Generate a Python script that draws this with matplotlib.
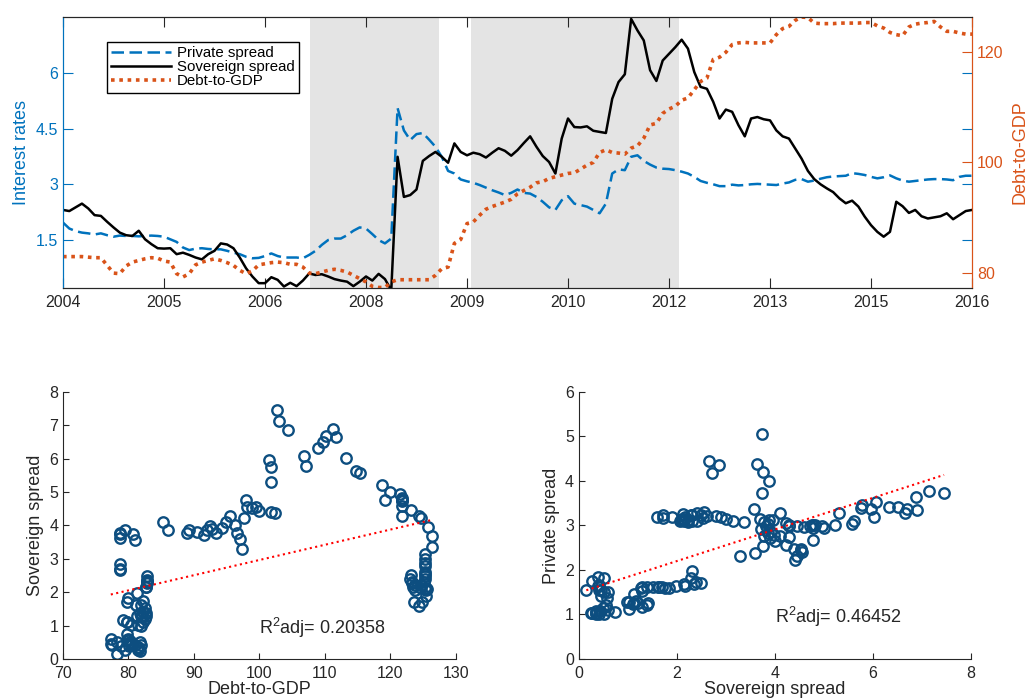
import numpy as np
import matplotlib.pyplot as plt

plt.rcParams['font.family'] = ['Liberation Sans', 'DejaVu Sans']
plt.rcParams['mathtext.fontset'] = 'custom'
plt.rcParams['mathtext.rm'] = 'Liberation Sans'
plt.rcParams['mathtext.default'] = 'regular'

# monthly observations, 2004 - 2016
sovereign = [2.31, 2.28, 2.38, 2.48, 2.35, 2.17, 2.15, 1.99, 1.84, 1.70, 1.63, 1.61, 1.75, 1.52, 1.39,
             1.28, 1.27, 1.28, 1.12, 1.16, 1.10, 1.03, 0.98, 1.12, 1.21, 1.41, 1.38, 1.28, 1.03, 0.74,
             0.52, 0.34, 0.34, 0.50, 0.43, 0.25, 0.35,
             0.26, 0.41, 0.60, 0.56, 0.58, 0.52, 0.45, 0.41, 0.38, 0.26, 0.38, 0.52, 0.41, 0.59, 0.45,
             0.15, 3.74, 2.66, 2.71, 2.86, 3.63, 3.76, 3.87, 3.74, 3.58, 4.10, 3.87, 3.78, 3.85, 3.81,
             3.72, 3.85, 3.97, 3.90, 3.77, 3.92,
             4.11, 4.29, 4.01, 3.76, 3.60, 3.29, 4.23, 4.77, 4.54, 4.53, 4.56, 4.44, 4.41, 4.38, 5.30,
             5.75, 5.96, 7.45, 7.14, 6.87, 6.07, 5.78, 6.33, 6.51, 6.69, 6.89, 6.65, 6.02, 5.62, 5.57,
             5.22, 4.77, 5.01, 4.95, 4.59, 4.29, 4.77,
             4.81, 4.75, 4.72, 4.45, 4.29, 4.23, 3.96, 3.69, 3.36, 3.14, 3.00, 2.89, 2.79, 2.62, 2.49,
             2.56, 2.40, 2.13, 1.90, 1.72, 1.59, 1.72, 2.53, 2.41, 2.23, 2.31, 2.14, 2.08, 2.11, 2.14,
             2.22, 2.06, 2.17, 2.28, 2.31]

private = [1.97, 1.81, 1.74, 1.70, 1.68, 1.65, 1.68, 1.63, 1.59, 1.62, 1.61, 1.61, 1.60, 1.61, 1.62,
           1.61, 1.59, 1.52, 1.45, 1.30, 1.23, 1.27, 1.28, 1.26, 1.25, 1.25, 1.21, 1.16, 1.12, 1.05,
           1.01, 1.02, 1.07, 1.14, 1.07, 1.03, 1.03,
           1.03, 1.01, 1.10, 1.21, 1.37, 1.50, 1.54, 1.54, 1.63, 1.75, 1.84, 1.81, 1.66, 1.50, 1.41,
           1.54, 5.05, 4.45, 4.19, 4.35, 4.38, 4.20, 4.01, 3.74, 3.36, 3.29, 3.13, 3.08, 3.04, 2.98,
           2.91, 2.84, 2.78, 2.71, 2.77, 2.86,
           2.77, 2.75, 2.66, 2.53, 2.38, 2.31, 2.57, 2.68, 2.48, 2.44, 2.40, 2.31, 2.22, 2.48, 3.29,
           3.40, 3.38, 3.74, 3.78, 3.63, 3.53, 3.45, 3.42, 3.41, 3.38, 3.34, 3.29, 3.20, 3.09, 3.04,
           3.00, 2.95, 2.95, 2.99, 2.97, 2.98, 3.00,
           3.01, 3.00, 2.99, 2.98, 3.02, 3.05, 3.12, 3.14, 3.07, 3.10, 3.15, 3.19, 3.21, 3.22, 3.23,
           3.30, 3.28, 3.25, 3.20, 3.16, 3.19, 3.24, 3.16, 3.10, 3.07, 3.09, 3.11, 3.13, 3.14, 3.14,
           3.13, 3.11, 3.20, 3.23, 3.23]

debt = [82.9, 82.9, 82.9, 82.9, 82.8, 82.7, 82.7, 81.3, 79.9, 79.8, 81.2, 81.9, 82.2, 82.5, 82.7,
        82.6, 82.1, 81.9, 79.8, 79.2, 79.8, 81.4, 81.9, 82.2, 82.5, 82.2, 81.8, 81.3, 80.4, 79.8,
        80.3, 81.4, 81.6, 81.8, 81.9, 81.8, 81.5,
        81.5, 81.0, 79.9, 79.8, 80.1, 80.4, 80.6, 80.4, 80.1, 79.5, 78.9, 78.3, 77.5, 77.3, 77.3,
        78.3, 78.7, 78.7, 78.7, 78.7, 78.7, 78.7, 79.5, 80.7, 81.0, 85.3, 86.0, 88.9, 89.2, 90.4,
        91.5, 92.0, 92.4, 92.8, 93.3, 94.3,
        94.9, 95.5, 96.3, 96.5, 97.1, 97.4, 97.7, 98.0, 98.1, 98.8, 99.5, 100.0, 101.8, 102.3, 101.8,
        101.7, 101.5, 102.6, 103.0, 104.4, 106.8, 107.1, 108.9, 109.7, 110.2, 111.3, 111.7, 113.2, 114.7, 115.3,
        118.7, 119.1, 120.0, 121.4, 121.7, 121.8, 121.7,
        121.7, 121.7, 121.7, 123.2, 124.3, 124.7, 125.8, 126.4, 126.3, 125.3, 125.2, 125.2, 125.2, 125.3, 125.3,
        125.3, 125.3, 125.4, 125.4, 124.8, 124.4, 123.6, 123.2, 123.0, 124.6, 125.1, 125.3, 125.4, 125.6, 124.6,
        123.8, 123.8, 123.5, 123.3, 123.3]

# shaded periods, in observation units
shaded = [(39.2, 59.5), (64.6, 97.6)]
year_ticks = [0, 16, 32, 48, 64, 80, 96, 112, 128, 144]
year_labels = ['2004', '2005', '2006', '2008', '2009', '2010', '2012', '2013', '2015', '2016']

r2_left = 'R$^2$adj= 0.20358'
r2_right = 'R$^2$adj= 0.46452'

blue = '#0072BD'
orange = '#D95319'
dark = '#262626'
dotc = '#0D4E80'

fig = plt.figure(figsize=(10.26, 6.98), dpi=100)

# ---- top: time series with two y axes
ax1 = fig.add_axes([0.0614, 0.5874, 0.886, 0.3882])
ax2 = ax1.twinx()
t = np.arange(len(sovereign))

for a, b in shaded:
    ax1.axvspan(a, b, color='#e4e4e4', lw=0, zorder=0)

l1, = ax1.plot(t, private, color=blue, lw=1.8, dashes=(5, 2.2), label='Private spread')
l2, = ax1.plot(t, sovereign, color='black', lw=1.8, label='Sovereign spread')
l3, = ax2.plot(t, debt, color=orange, lw=2.6, ls=(0, (1, 1.3)), dash_capstyle='butt', label='Debt-to-GDP')

ax1.set_xlim(0, 144)
ax1.set_ylim(0.21, 7.5)
ax2.set_ylim(77.2, 126.4)
ax1.set_xticks(year_ticks)
ax1.set_xticklabels(year_labels)
ax1.set_yticks([1.5, 3, 4.5, 6])
ax1.set_yticklabels(['1.5', '3', '4.5', '6'])
ax2.set_yticks([80, 100, 120])

ax1.tick_params(axis='x', direction='in', length=7, top=True, colors=dark, labelsize=11.5, pad=5)
ax1.tick_params(axis='y', direction='in', length=7, right=True, colors=blue, labelsize=11.5)
ax2.tick_params(axis='y', direction='in', length=7, colors=orange, labelsize=11.5)

for a in (ax1, ax2):
    a.spines['left'].set_color(blue)
    a.spines['right'].set_color(orange)
    a.spines['top'].set_color(dark)
    a.spines['bottom'].set_color(dark)

ax1.set_ylabel('Interest rates', color=blue, fontsize=13, labelpad=4)
ax2.set_ylabel('Debt-to-GDP', color=orange, fontsize=13, labelpad=6)

leg = ax2.legend(handles=[l1, l2, l3], loc='upper left', bbox_to_anchor=(0.048, 0.908),
                 borderaxespad=0, fancybox=False, edgecolor='black', framealpha=1,
                 fontsize=10.8, handlelength=4, labelspacing=0.0, borderpad=0.3, handletextpad=0.4)
leg.get_frame().set_linewidth(1.0)

# ---- bottom left: sovereign vs debt
ax3 = fig.add_axes([0.0614, 0.0559, 0.383, 0.3825])
ax3.plot(debt, sovereign, 'o', mfc='none', mec=dotc, mew=1.7, ms=7.5)
fit = np.polyfit(debt, sovereign, 1)
xs = np.sort(debt)
ax3.plot(xs, np.polyval(fit, xs), ':', color='red', lw=1.5)
ax3.text(100, 0.75, r2_left, fontsize=13, color=dark)
ax3.set_xlim(70, 130)
ax3.set_ylim(0, 8)
ax3.set_xticks([70, 80, 90, 100, 110, 120, 130])
ax3.set_yticks(range(0, 9))
ax3.set_xlabel('Debt-to-GDP', fontsize=13, color=dark, labelpad=0)
ax3.set_ylabel('Sovereign spread', fontsize=13, color=dark, labelpad=4)

# ---- bottom right: private vs sovereign
ax4 = fig.add_axes([0.5643, 0.0559, 0.3821, 0.3825])
ax4.plot(sovereign, private, 'o', mfc='none', mec=dotc, mew=1.7, ms=7.5)
fit2 = np.polyfit(sovereign, private, 1)
xs2 = np.sort(sovereign)
ax4.plot(xs2, np.polyval(fit2, xs2), ':', color='red', lw=1.5)
ax4.text(4.0, 0.8, r2_right, fontsize=13, color=dark)
ax4.set_xlim(0, 8)
ax4.set_ylim(0, 6)
ax4.set_xticks([0, 2, 4, 6, 8])
ax4.set_yticks(range(0, 7))
ax4.set_xlabel('Sovereign spread', fontsize=13, color=dark, labelpad=0)
ax4.set_ylabel('Private spread', fontsize=13, color=dark, labelpad=4)

for a in (ax3, ax4):
    a.spines['top'].set_visible(False)
    a.spines['right'].set_visible(False)
    a.spines['left'].set_color(dark)
    a.spines['bottom'].set_color(dark)
    a.tick_params(direction='in', length=4, colors=dark, labelsize=11.5)
    a.tick_params(axis='x', pad=5)

fig.savefig('out.png', dpi=100)
